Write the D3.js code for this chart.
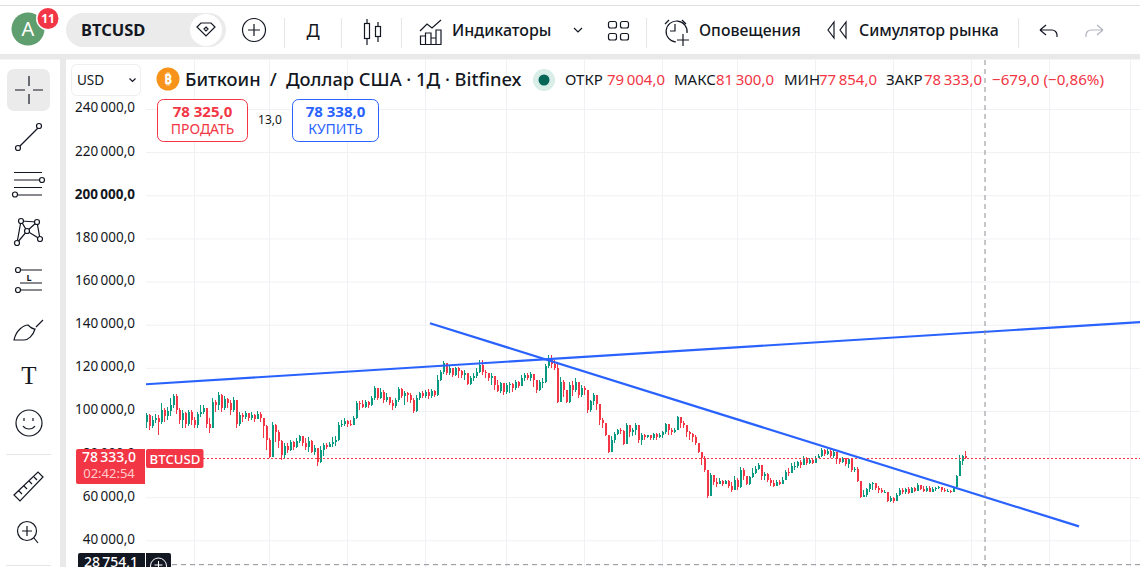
<!DOCTYPE html>
<html><head><meta charset="utf-8">
<script src="https://cdnjs.cloudflare.com/ajax/libs/d3/7.8.5/d3.min.js"></script>
<style>
html,body{margin:0;padding:0;background:#fff;overflow:hidden}
svg{display:block}
text{font-family:"Noto Sans",Roboto,sans-serif;fill:#131722}
</style></head><body>
<svg id="c" width="1140" height="567"></svg>
<script>
const firstOpen = 95.0;
const closes = [
98,92.9,95.7,96.7,94.8,100.4,97.6,99.9,102.7,106.9,100.4,95.7,99,93.9,99.4,95.7,93.4,98.5,99.4,101.3,
93.9,92,104.1,102.7,107.3,101.3,105.5,103.6,100.4,105,93.9,98,97.1,99,96.7,98,96.2,98.5,96.7,92.9,
86.4,78.6,93.4,90.2,86,79.5,83.7,81.8,85.5,83.2,86,88.3,85.1,83.2,86,80.9,82.7,76.2,81.8,84.1,
83.2,84.6,85.5,86.4,93.4,93.9,95.3,93.9,93.4,96.7,103.6,103.2,101.8,104.1,102.7,105.9,110.6,105.9,108.7,105,
106.4,103.6,102.2,105,110.1,106.9,108.3,107.3,105,99.9,105.9,108.3,106.9,108.7,106.9,109.2,107.3,114.3,118,122.2,
117.5,119.9,116.6,119.9,118.5,116.6,117.5,112.4,115.2,116.1,118,121.2,118,117.5,115.2,116.1,112,109.2,112.9,108.7,
112,112.4,110.6,113.4,111.5,115.2,116.6,115.2,117.1,114.3,109.6,113.4,113.4,120.8,124.5,121.7,119.9,104.1,113.4,109.6,
104.1,112,109.6,113.4,107.3,110.6,109.6,100.4,104.5,107.3,103.2,95.7,94.3,88.8,80.9,86.4,89.2,91.1,90.7,84.6,
93.4,90.2,91.1,93.4,86.4,88.8,87.8,88.8,87.4,89.2,87.8,88.8,90.2,93.9,91.1,90.2,91.1,97.1,94.3,93.4,
90.2,89.2,87.8,85.1,80.9,78.1,72.5,60.5,70.2,67,66,67.4,66,67.4,65.1,63.2,67.9,64.6,72.5,69.7,
66,69.3,71.1,73,74.8,69.7,70.7,67.9,66.5,65.1,67,66,67.9,71.6,71.1,74.4,74.4,76.2,74.8,78.1,
75.8,77.2,75.8,78.1,79,81.8,80,81.3,79,80.9,77.6,76.2,78.1,75.3,77.6,72.5,73,67.4,60,60.9,
63.7,66,66.5,64.2,63.2,62.3,62.3,58.1,59.5,58.1,60.9,63.2,62.3,63.7,61.9,64.2,62.8,65.6,63.7,62.8,
64.2,62.3,63.7,64.2,64.6,63.2,62.8,62.8,62.3,64.6,69.7,77,79.004,78.333];
const highs = [
99,98.5,97.6,98.5,98,103.6,101.3,101.8,105.9,107.8,107.8,101.3,100.4,99.4,100.4,100.4,97.1,99.4,102.7,102.7,
97.6,96.7,105.9,105,108.7,107.8,106.9,105.9,105,106.4,101.8,99.4,98.9,99.9,98.9,99.4,98.5,99.9,99.4,96.7,
93.4,87.4,94.8,93.9,91.1,86.4,85.1,85.1,86.4,86,87.4,88.8,88.3,87.4,87.8,86.4,84.1,82.7,83.7,85.1,
85.1,85.5,87.8,88.3,94.8,95.7,96.7,95.7,95.7,97.6,104.5,104.5,105,105,104.5,106.9,111.5,110.6,110.6,109.6,
108.3,106.4,105,105.9,111,110.6,109.2,108.7,108.3,105.9,107.3,108.7,109.2,109.6,110.1,110.1,109.6,116.6,118.9,123.1,
121.2,120.8,119.9,120.3,120.3,118.9,118.9,116.1,116.1,117.5,119.9,123.6,123.6,118.9,117.5,117.5,116.1,114.3,113.4,112.9,
112.9,113.4,112.9,114.3,113.8,116.6,117.5,117.5,118,117.1,112.4,114.3,115.2,121.7,125.9,125.9,123.6,122.6,115.7,114.3,
108.3,113.4,113.8,115.2,113.4,112,111.5,109.6,105,108.3,107.3,102.7,96.7,93.4,88.8,88.3,90.2,91.6,92,91.1,
94.3,93.4,92,94.3,90.7,89.7,89.2,88.8,88.8,89.7,89.7,89.7,90.7,94.3,92.5,92,92,97.6,97.1,95.3,
93.4,90.7,89.7,88.8,85.1,79,79,71.6,71.1,70.2,68.8,68.8,67.9,67.9,67.9,67,69.7,68.8,73.9,73.5,
68.8,69.7,73.5,74.4,75.8,74.4,71.6,71.1,68.8,67.9,67.9,67.9,69.3,72.5,73.5,75.8,76.2,76.7,77.2,79,
78.6,78.1,78.1,79,80,82.7,82.3,82.3,82.3,81.8,78.6,78.1,78.6,78.1,78.1,74.4,73.9,73.9,64.2,63.2,
64.2,66.5,67,66,65.1,64.2,63.2,60.9,60.5,60,61.9,64.2,64.2,64.2,64.6,64.6,64.6,66.5,65.6,65.1,
65.1,65.1,64.6,64.6,65.1,64.6,64.2,63.7,63.2,65.1,70.2,79.5,79.5,81.3];
const lows = [
92,91.1,92,94.3,88.8,93.9,94.8,95.7,97.6,101.3,98.5,93.9,92,92,92.9,93.4,92,92,97.1,98.5,
92,89.7,92,99.4,100.4,99.4,100.4,101.3,98,99.4,92,92.9,94.8,96.2,95.3,95.7,94.8,96.2,94.8,87.4,
81.8,78.1,84.1,85.5,82.7,77.2,78.1,80.4,81.3,81.8,82.7,85.1,83.7,81.8,80.9,80.4,79.5,74.4,75.8,79,
82.3,84.1,83.2,83.7,86,92.5,92.9,92.5,92.9,93.4,96.2,100.4,101.3,101.3,101.3,102.2,105,105,105.5,103.6,
104.1,102.7,100.4,101.3,104.1,105.9,102.7,104.1,103.6,99,99.4,105,105.9,105.9,105.5,105.9,106.4,106.9,113.8,117.1,
116.6,116.6,115.7,116.1,115.2,115.2,114.3,112,112,113.8,115.2,117.5,116.6,115.2,113.8,112,109.6,108.7,108.3,107.3,
107.8,108.3,108.7,109.6,110.6,113.4,113.8,114.3,113.8,111,108.3,109.2,110.6,112.9,119.9,119.9,118.9,103.6,107.3,106.4,
103.6,103.6,106.9,108.7,105.9,106.4,107.3,99,99.4,102.7,100.4,93.4,92,88.3,80.4,83.7,85.1,88.8,89.2,84.1,
85.5,87.8,88.3,88.8,85.1,84.1,86.4,87.4,86.4,86.4,86.4,87.4,87.4,89.2,88.8,88.8,89.7,91.1,92,92,
87.8,86.4,85.5,84.1,80.4,74.8,71.6,59.5,67,65.6,64.6,66,65.1,66,64.2,62.3,63.2,63.2,64.2,67.9,
65.6,65.6,68.8,70.7,72.5,67.9,67.9,67,65.1,64.6,65.6,65.6,66,67.9,69.7,71.1,72.5,73.5,73.5,74.8,
74.8,75.3,75.3,77.2,78.1,78.6,79,79.5,78.1,78.1,75.3,75.3,75.8,74.4,73.5,71.6,71.6,67,59.5,60,
60,62.3,63.2,63.2,61.9,61.9,61.9,57.7,57.7,57.2,58.1,60.5,61.4,61.4,61.4,61.9,62.3,62.8,63.2,62.3,
62.3,62.3,62.3,62.8,63.7,62.3,62.3,62.3,61.9,62.3,64.2,69.7,75,77.854];
const yTicks = [240000,220000,200000,180000,160000,140000,120000,100000,80000,60000,40000];
const timeGridBars = [16,41,67,93,120,146,172,197,223,249,275,301,328];
const trendLines = [
  [{bar:0,price:112.4},{bar:331.33,price:141.2}],
  [{bar:94.67,price:140.7},{bar:311,price:46.5}]
];
const lastPrice = 78333, sellPrice = 78325, buyPrice = 78338, crossPrice = 28754.1, spreadVal = 13;
const ohlc = [["ОТКР",79004],["МАКС",81300],["МИН",77854],["ЗАКР",78333]];

const RED="#f23645",GREEN="#089981",BLUE="#2962ff",INK="#131722";
const svg=d3.select("#c");
const x=d3.scaleLinear().domain([0,1]).range([146,149]);
const y=d3.scaleLinear().domain([40000,240000]).range([540.4,109]);
const loc=d3.formatLocale({decimal:",",thousands:"\u2009",grouping:[3]});
const fmt=loc.format(",.1f");
const T=(g,t,px,py,o={})=>g.append("text").attr("x",px).attr("y",py).text(t)
  .attr("font-size",o.s||13).attr("font-weight",o.w||400).attr("text-anchor",o.a||"start")
  .style("fill",o.f||INK);

// page frame
svg.append("rect").attr("width",1140).attr("height",567).attr("fill","#fff");
svg.append("rect").attr("y",5).attr("width",1140).attr("height",1).attr("fill","#e0e0e0");
svg.append("rect").attr("y",54).attr("width",1140).attr("height",5.5).attr("fill","#e9e9e9");
svg.append("rect").attr("x",60).attr("y",54).attr("width",6).attr("height",513).attr("fill","#e9e9e9");

// grid
const grid=svg.append("g");
grid.append("g").attr("transform","translate(146,0)")
  .call(d3.axisRight(y).tickValues(yTicks).tickSize(994).tickFormat(""))
  .call(g=>{g.select(".domain").remove();g.selectAll("line").attr("stroke","#f0f1f4");});
grid.append("g").attr("transform","translate(0,60)")
  .call(d3.axisBottom(x).tickValues(timeGridBars).tickSize(507).tickFormat(""))
  .call(g=>{g.select(".domain").remove();g.selectAll("line").attr("stroke","#f0f1f4");});

// y axis
svg.append("g").attr("transform","translate(135,0)")
  .call(d3.axisLeft(y).tickValues(yTicks).tickSize(0).tickPadding(0).tickFormat(d=>fmt(d)))
  .call(g=>{g.select(".domain").remove();
    g.selectAll("text").attr("font-size",13.5).style("fill",INK)
     .style("font-family",'"Noto Sans",sans-serif').attr("dy","0.22em")
     .attr("font-weight",d=>d===200000?700:400);});

// candles
const candles=closes.map((c,i)=>({i,o:i?closes[i-1]:firstOpen,c,h:highs[i],l:lows[i]}));
const cg=svg.append("g").attr("shape-rendering","crispEdges").selectAll("g").data(candles).join("g");
const col=d=>d.c>=d.o?GREEN:RED;
cg.append("line").attr("x1",d=>Math.round(x(d.i))+.5).attr("x2",d=>Math.round(x(d.i))+.5)
  .attr("y1",d=>y(d.h*1000)).attr("y2",d=>y(d.l*1000)).attr("stroke",col);
cg.append("rect").attr("x",d=>Math.round(x(d.i))-.5).attr("width",2)
  .attr("y",d=>Math.min(y(d.o*1000),y(d.c*1000)))
  .attr("height",d=>Math.max(1,Math.abs(y(d.o*1000)-y(d.c*1000)))).attr("fill",col);

// last-price line
svg.append("line").attr("x1",203).attr("x2",1140).attr("y1",458.5).attr("y2",458.5)
  .attr("stroke",RED).attr("stroke-dasharray","2 2").attr("shape-rendering","crispEdges");

// trend lines
const tl=d3.line().x(d=>x(d.bar)).y(d=>y(d.price*1000));
svg.append("g").selectAll("path").data(trendLines).join("path").attr("d",tl)
  .attr("fill","none").attr("stroke",BLUE).attr("stroke-width",2.2);

// crosshair
svg.append("line").attr("x1",985).attr("x2",985).attr("y1",60).attr("y2",567)
  .attr("stroke","#8f8f96").attr("stroke-dasharray","5 4");
svg.append("line").attr("x1",172).attr("x2",1140).attr("y1",y(crossPrice)).attr("y2",y(crossPrice))
  .attr("stroke","#8f8f96").attr("stroke-dasharray","5 4");

// price labels
svg.append("path").attr("d","M76 451a2 2 0 0 1 2-2H145V484H78a2 2 0 0 1-2-2Z").attr("fill",RED);
T(svg,fmt(lastPrice),109,462,{s:14,w:500,a:"middle",f:"#fff"});
T(svg,"02:42:54",109,478,{s:13,a:"middle",f:"#fcc"});
svg.append("rect").attr("x",146).attr("y",449).attr("width",57.5).attr("height",19).attr("rx",2).attr("fill",RED);
T(svg,"BTCUSD",175,463.5,{s:13.2,w:500,a:"middle",f:"#fff"});
svg.append("path").attr("d","M78 555a2 2 0 0 1 2-2H145V567H78Z").attr("fill",INK);
T(svg,fmt(crossPrice),111,567,{s:14,w:500,a:"middle",f:"#fff"});
svg.append("path").attr("d","M146 553H169a2 2 0 0 1 2 2V567H146Z").attr("fill",INK);
svg.append("circle").attr("cx",158.5).attr("cy",566).attr("r",8).attr("fill","none").attr("stroke","#fff");
svg.append("path").attr("d","M158.5 561V567M154.5 565H162.5").attr("stroke","#fff");

// USD selector
svg.append("rect").attr("x",71.5).attr("y",64.5).attr("width",69).attr("height",31).attr("rx",5)
  .attr("fill","#fff").attr("stroke","#eeeeee");
T(svg,"USD",77,85,{s:13.5});
svg.append("path").attr("d","M129.5 78.5l3 3 3-3").attr("fill","none").attr("stroke",INK).attr("stroke-width",1.2);

// legend
svg.append("circle").attr("cx",168).attr("cy",79).attr("r",11.5).attr("fill","#f7931a");
T(svg,"₿",168,84,{s:14,w:700,a:"middle",f:"#fff"});
T(svg,"Биткоин  /  Доллар США · 1Д · Bitfinex".replace(/  /g,"\u2002"),185,86,{s:18.3,w:500});
svg.append("circle").attr("cx",544).attr("cy",80).attr("r",11).attr("fill","#d9ede9");
svg.append("circle").attr("cx",544).attr("cy",80).attr("r",5.5).attr("fill","#056656");
const legX=[[565,607],[674,716],[784,819],[886,924]];
ohlc.forEach((d,i)=>{T(svg,d[0],legX[i][0],85,{s:15});T(svg,fmt(d[1]),legX[i][1],85,{s:15,f:RED});});
T(svg,"−679,0 (−0,86%)",992,85,{s:15.2,f:RED});

// sell / buy
svg.append("rect").attr("x",157.5).attr("y",99.5).attr("width",90).attr("height",42).attr("rx",6).attr("fill","#fff").attr("stroke",RED);
T(svg,fmt(sellPrice).replace("\u2009"," "),202.5,117,{s:15,w:700,a:"middle",f:RED});
T(svg,"ПРОДАТЬ",202.5,134,{s:14,a:"middle",f:RED});
T(svg,fmt(spreadVal),270,124,{s:12,a:"middle"});
svg.append("rect").attr("x",292.5).attr("y",99.5).attr("width",86).attr("height",42).attr("rx",6).attr("fill","#fff").attr("stroke",BLUE);
T(svg,fmt(buyPrice).replace("\u2009"," "),335.5,117,{s:15,w:700,a:"middle",f:BLUE});
T(svg,"КУПИТЬ",335.5,134,{s:14,a:"middle",f:BLUE});

// top toolbar
const tb=svg.append("g");
tb.append("circle").attr("cx",28).attr("cy",29).attr("r",16.5).attr("fill","#5f9e6e");
T(tb,"A",28,36,{s:20,a:"middle",f:"#fff"});
tb.append("circle").attr("cx",48).attr("cy",18.5).attr("r",12).attr("fill","#fff");
tb.append("circle").attr("cx",48).attr("cy",18.5).attr("r",10.5).attr("fill",RED);
T(tb,"11",48,23,{s:12,w:700,a:"middle",f:"#fff"});
tb.append("rect").attr("x",66).attr("y",13).attr("width",160).attr("height",34).attr("rx",17).attr("fill","#ebebeb");
tb.append("circle").attr("cx",206).attr("cy",30).attr("r",16).attr("fill","#fff");
T(tb,"BTCUSD",81,35.5,{s:16.5,w:700});
const ic=tb.append("g").attr("fill","none").attr("stroke",INK).attr("stroke-width",1.2);
ic.append("path").attr("d","M197 27l4-4h10l4 4-9 9ZM206 27l2 2-2 2-2-2Z");
ic.append("circle").attr("cx",254).attr("cy",30).attr("r",11.5);
ic.append("path").attr("d","M254 24V36M248 30H260");
ic.append("rect").attr("x",364.5).attr("y",23.5).attr("width",5).attr("height",15);
ic.append("rect").attr("x",375.5).attr("y",26.5).attr("width",5).attr("height",10);
ic.append("path").attr("d","M367 19V23M367 39V45M378 22V26M378 37V42");
ic.append("path").attr("d","M420 31l7-7 5 4 9-8M420.5 44.5V36h5v8.5M425.5 44.5V33h5.5v11.5M431 44.5V38h5v6.5M436 44.5V30h5v14.5H420");
ic.append("path").attr("d","M574 28l4 4 4-4");
[[608.5,21.5],[620.5,21.5],[608.5,33.5],[620.5,33.5]].forEach(p=>ic.append("rect").attr("x",p[0]).attr("y",p[1]).attr("width",8).attr("height",6.5).attr("rx",2));
ic.append("path").attr("d","M676 42a10.5 10.5 0 1 1 11-9M675 24v7h-5M665 24l4-4M682 20l4 4M683 34v12M677 40h12");
ic.append("path").attr("d","M834 22l-6 8 6 8ZM846 22l-6 8 6 8Z");
ic.append("path").attr("d","M1040 30h12a5 5 0 0 1 5 5v2M1040 30l6-5M1040 30l6 5");
ic.append("path").attr("d","M1103 30h-12a5 5 0 0 0-5 5v2M1103 30l-6-5M1103 30l-6 5").attr("stroke","#b2b5be");
[284,341,401,646,1018].forEach(sx=>tb.append("rect").attr("x",sx).attr("y",18).attr("width",1).attr("height",30).attr("fill","#e6e6e6"));
T(tb,"Д",313,37,{s:18,a:"middle"});
T(tb,"Индикаторы",452,36,{s:16,w:500});
T(tb,"Оповещения",699,36,{s:15.8,w:500});
T(tb,"Симулятор рынка",859,36,{s:15.9,w:500});

// left toolbar
const lb=svg.append("g");
lb.append("rect").attr("x",7).attr("y",69).attr("width",43).attr("height",42).attr("rx",7).attr("fill","#ebebeb");
const li=lb.append("g").attr("fill","none").attr("stroke",INK).attr("stroke-width",1.2);
li.append("path").attr("d","M15 90H25M33 90H43M29 76V86M29 94V104");
const dot=(a,b)=>li.append("circle").attr("cx",a).attr("cy",b).attr("r",2.5).attr("fill","#fff");
li.append("path").attr("d","M18 148L39 127");dot(18,148);dot(39,126);
li.append("path").attr("d","M14 172.5H42M14 180H39M14 187.5H42M18 195H42");dot(42,180);dot(15,194.5);
li.append("path").attr("d","M17 243L21 221L27 231L37 222L40 239L27 231L17 243M21 221L37 222");[[17,243],[21,221],[27,231],[37,222],[40,239]].forEach(p=>dot(p[0],p[1]));
li.append("path").attr("d","M20 270H42M20 283H42M19 290H42");dot(18,270);dot(18,290);
T(lb,"L",29,281,{s:9,w:700,a:"middle"});
li.append("path").attr("d","M14 340c2-10 10-15 14-15 3 3 5 4 7 4-2 7-7 11-11 11ZM36 327l7-7");
T(lb,"T",29,384,{s:25,a:"middle"}).style("font-family","'Liberation Serif',serif");
li.append("circle").attr("cx",29).attr("cy",423).attr("r",13);
li.append("path").attr("d","M23 426c3 4 9 4 12 0M24 418v3M33 418v3");
lb.append("rect").attr("x",6).attr("y",454).attr("width",45).attr("height",1).attr("fill","#e6e6e6");
lb.append("rect").attr("x",6).attr("y",565).attr("width",45).attr("height",1).attr("fill","#e6e6e6");
li.append("path").attr("d","M14 495L38 472L43 477L20 501ZM19 491l3 3M24 486l3 3M29 481l3 3M34 477l3 3");
li.append("circle").attr("cx",27).attr("cy",531).attr("r",9.5);
li.append("path").attr("d","M27 526V536M22 531H32M34 538l4 5");
</script></body></html>
